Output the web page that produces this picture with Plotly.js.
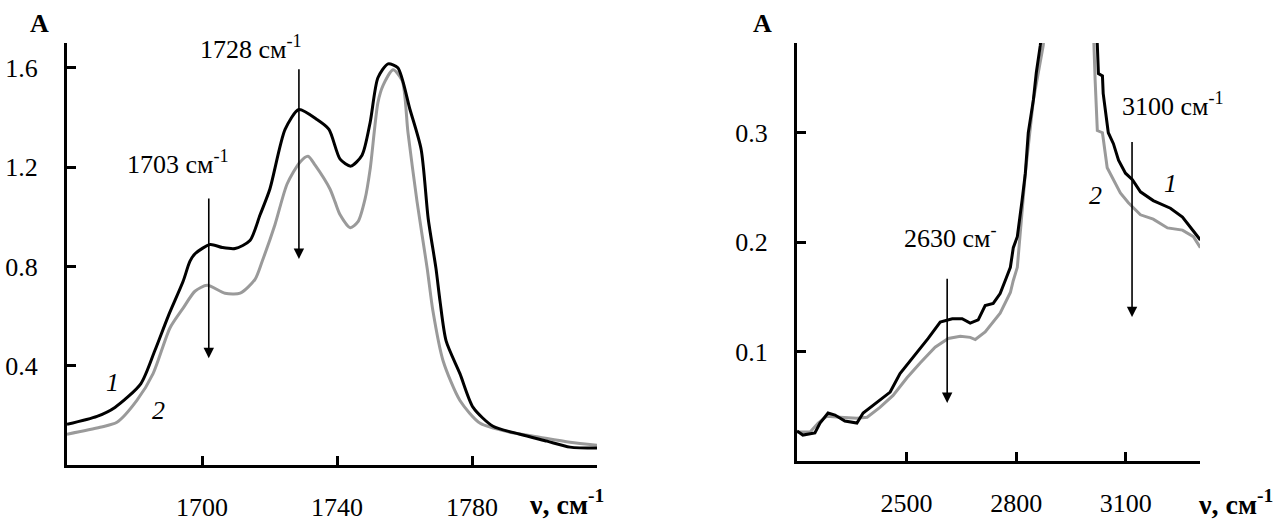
<!DOCTYPE html>
<html>
<head>
<meta charset="utf-8">
<script src="https://cdn.plot.ly/plotly-3.0.1.min.js"></script>
<style>html,body{margin:0;padding:0;background:#fff;}#chart{width:1275px;height:522px;}</style>
</head>
<body>
<div id="chart"></div>
<script>
// Left panel (1660–1820 cm-1)
const leftX1 = [1660, 1668.9, 1674.2, 1681.9, 1686, 1690, 1694.4, 1696.4, 1698, 1702.4, 1706, 1709.8, 1714.2, 1717.2, 1720.1, 1724.6, 1728.7, 1734, 1737.6, 1740.9, 1744.1, 1747.4, 1749.8, 1752.1, 1755.1, 1758, 1761.6, 1764.9, 1767, 1769.3, 1770.5, 1772.3, 1776.4, 1780.3, 1786.2, 1794.2, 1802.2, 1809, 1817];
const leftY1 = [0.164, 0.196, 0.232, 0.328, 0.46, 0.6, 0.74, 0.82, 0.852, 0.888, 0.876, 0.872, 0.904, 1.008, 1.112, 1.352, 1.432, 1.392, 1.352, 1.232, 1.204, 1.248, 1.38, 1.56, 1.616, 1.6, 1.432, 1.272, 0.992, 0.792, 0.66, 0.5, 0.368, 0.232, 0.156, 0.124, 0.096, 0.072, 0.068];
const leftX2 = [1660, 1669.8, 1674.8, 1680.7, 1685.5, 1690.5, 1694.4, 1697.9, 1701.5, 1706.8, 1711.3, 1715.7, 1717.8, 1721.6, 1725.2, 1729, 1731.4, 1733.5, 1737.9, 1739.4, 1740.9, 1743.9, 1746.2, 1748.3, 1749.8, 1752.1, 1753.6, 1756.6, 1759.3, 1761, 1763.7, 1766.7, 1768.4, 1771.4, 1776.4, 1782.4, 1791.3, 1800, 1809, 1817];
const leftY2 = [0.124, 0.152, 0.172, 0.26, 0.368, 0.552, 0.632, 0.7, 0.724, 0.692, 0.692, 0.748, 0.82, 0.968, 1.132, 1.22, 1.244, 1.208, 1.112, 1.06, 1.008, 0.956, 0.98, 1.072, 1.192, 1.46, 1.528, 1.592, 1.548, 1.34, 1.06, 0.792, 0.62, 0.42, 0.26, 0.168, 0.132, 0.112, 0.092, 0.08];

// Right panel (2200–3300 cm-1); the strong band goes off scale
const rightX1 = [2200, 2216, 2249, 2263, 2285, 2304, 2331, 2364, 2381, 2419, 2455, 2482, 2518, 2559, 2592, 2625, 2652, 2674, 2696, 2715, 2737, 2756, 2770, 2784, 2792, 2803, 2816, 2825, 2833, 2847, 2855, 2866, 2885, 2930, 2980, 3010, 3022, 3025, 3036, 3038, 3052, 3066, 3080, 3099, 3118, 3140, 3175, 3222, 3255, 3282, 3304];
const rightY1 = [0.0274, 0.0237, 0.0256, 0.0347, 0.0438, 0.042, 0.0365, 0.0347, 0.0438, 0.054, 0.063, 0.080, 0.095, 0.112, 0.127, 0.130, 0.130, 0.126, 0.129, 0.142, 0.144, 0.153, 0.165, 0.177, 0.195, 0.205, 0.238, 0.263, 0.30, 0.33, 0.355, 0.38, 0.45, 0.70, 0.70, 0.45, 0.38, 0.354, 0.352, 0.336, 0.30, 0.29, 0.275, 0.263, 0.257, 0.246, 0.238, 0.231, 0.223, 0.211, 0.202];
const rightX2 = [2200, 2236, 2258, 2282, 2318, 2364, 2392, 2427, 2463, 2501, 2537, 2578, 2614, 2647, 2674, 2688, 2715, 2756, 2784, 2792, 2803, 2825, 2847, 2874, 2890, 2930, 2980, 3005, 3011, 3016, 3022, 3036, 3049, 3066, 3085, 3107, 3140, 3175, 3214, 3255, 3285, 3304];
const rightY2 = [0.0265, 0.0265, 0.0347, 0.041, 0.040, 0.039, 0.040, 0.049, 0.060, 0.076, 0.0895, 0.104, 0.112, 0.114, 0.113, 0.111, 0.118, 0.135, 0.154, 0.165, 0.177, 0.263, 0.33, 0.38, 0.45, 0.70, 0.70, 0.45, 0.38, 0.348, 0.302, 0.30, 0.268, 0.257, 0.245, 0.236, 0.225, 0.221, 0.213, 0.211, 0.205, 0.195];

const leftTicks = [1700, 1740, 1780];
const leftYTicks = [0.4, 0.8, 1.2, 1.6];
const rightTicks = [2500, 2800, 3100];
const rightYTicks = [0.1, 0.2, 0.3];

const FONT = 'Liberation Serif, Times New Roman, serif';
const BLACK = '#000000';
const GRAY = '#9a9a9a';

const traces = [
  {x: leftX2, y: leftY2, xaxis: 'x', yaxis: 'y', mode: 'lines', line: {color: GRAY, width: 3, shape: 'spline', smoothing: 0.7}, hoverinfo: 'skip'},
  {x: leftX1, y: leftY1, xaxis: 'x', yaxis: 'y', mode: 'lines', line: {color: BLACK, width: 3, shape: 'spline', smoothing: 0.7}, hoverinfo: 'skip'},
  {x: rightX2, y: rightY2, xaxis: 'x2', yaxis: 'y2', mode: 'lines', line: {color: GRAY, width: 3}, hoverinfo: 'skip'},
  {x: rightX1, y: rightY1, xaxis: 'x2', yaxis: 'y2', mode: 'lines', line: {color: BLACK, width: 3}, hoverinfo: 'skip'}
];

function axisBase(extra) {
  return Object.assign({
    showgrid: false, zeroline: false, showline: true, linecolor: BLACK, linewidth: 3,
    ticks: 'inside', ticklen: 9, tickwidth: 3, tickcolor: BLACK,
    tickfont: {family: FONT, size: 26, color: BLACK}, fixedrange: true
  }, extra);
}

const txt = {family: FONT, size: 26, color: BLACK};
const ital = {family: FONT, size: 26, color: BLACK};
const bold = {family: FONT, size: 26, color: BLACK};
const boldT = {family: FONT, size: 28, color: BLACK};

function arrow(xref, yref, x, yHead, yTail) {
  return {xref: xref, yref: yref, x: x, y: yHead, ax: x, ay: yTail, axref: xref, ayref: yref,
    text: '', showarrow: true, arrowhead: 2, arrowsize: 1.3, arrowwidth: 1.6, arrowcolor: BLACK};
}

const layout = {
  width: 1275, height: 522,
  margin: {l: 0, r: 0, t: 0, b: 0},
  paper_bgcolor: '#ffffff', plot_bgcolor: '#ffffff',
  showlegend: false,
  xaxis: axisBase({domain: [67/1275, 597/1275], range: [1660, 1817], tickvals: leftTicks, ticklabelstandoff: 17, anchor: 'y'}),
  yaxis: axisBase({domain: [1 - 465/522, 1 - 43/522], range: [0, 1.7], tickvals: leftYTicks, tickformat: '.1f', ticklabelstandoff: 21, anchor: 'x'}),
  xaxis2: axisBase({domain: [797/1275, 1200/1275], range: [2200, 3303], tickvals: rightTicks, ticklabelstandoff: 17, anchor: 'y2'}),
  yaxis2: axisBase({domain: [1 - 461/522, 1 - 43/522], range: [0, 0.382], tickvals: rightYTicks, tickformat: '.1f', ticklabelstandoff: 21, anchor: 'x2'}),
  annotations: [
    {xref: 'paper', yref: 'paper', x: 39/1275, y: 1 - 24/522, xanchor: 'center', yanchor: 'middle', text: '<b>A</b>', showarrow: false, font: bold},
    {xref: 'paper', yref: 'paper', x: 762/1275, y: 1 - 24/522, xanchor: 'center', yanchor: 'middle', text: '<b>A</b>', showarrow: false, font: bold},
    {xref: 'paper', yref: 'paper', x: 527/1275, y: 1 - 502/522, xanchor: 'left', yanchor: 'middle', text: '<b>ν, см<sup>-1</sup></b>', showarrow: false, font: boldT},
    {xref: 'paper', yref: 'paper', x: 1196/1275, y: 1 - 502/522, xanchor: 'left', yanchor: 'middle', text: '<b>ν, см<sup>-1</sup></b>', showarrow: false, font: boldT},

    {xref: 'x', yref: 'y', x: 1677.2, y: 1.22, xanchor: 'left', yanchor: 'middle', text: '1703 см<sup>-1</sup>', showarrow: false, font: txt},
    {xref: 'x', yref: 'y', x: 1698.8, y: 1.68, xanchor: 'left', yanchor: 'middle', text: '1728 см<sup>-1</sup>', showarrow: false, font: txt},
    arrow('x', 'y', 1702, 0.43, 1.08),
    arrow('x', 'y', 1728.7, 0.83, 1.60),
    {xref: 'x', yref: 'y', x: 1673.6, y: 0.332, xanchor: 'center', yanchor: 'middle', text: '<i>1</i>', showarrow: false, font: ital},
    {xref: 'x', yref: 'y', x: 1687, y: 0.22, xanchor: 'center', yanchor: 'middle', text: '<i>2</i>', showarrow: false, font: ital},

    {xref: 'x2', yref: 'y2', x: 2488, y: 0.205, xanchor: 'left', yanchor: 'middle', text: '2630 см<sup>-</sup>', showarrow: false, font: txt},
    {xref: 'x2', yref: 'y2', x: 3085, y: 0.326, xanchor: 'left', yanchor: 'middle', text: '3100 см<sup>-1</sup>', showarrow: false, font: txt},
    arrow('x2', 'y2', 2611, 0.053, 0.168),
    arrow('x2', 'y2', 3117, 0.1315, 0.293),
    {xref: 'x2', yref: 'y2', x: 3222, y: 0.254, xanchor: 'center', yanchor: 'middle', text: '<i>1</i>', showarrow: false, font: ital},
    {xref: 'x2', yref: 'y2', x: 3016, y: 0.243, xanchor: 'center', yanchor: 'middle', text: '<i>2</i>', showarrow: false, font: ital}
  ]
};

Plotly.newPlot('chart', traces, layout, {staticPlot: true, displayModeBar: false});
</script>
</body>
</html>
